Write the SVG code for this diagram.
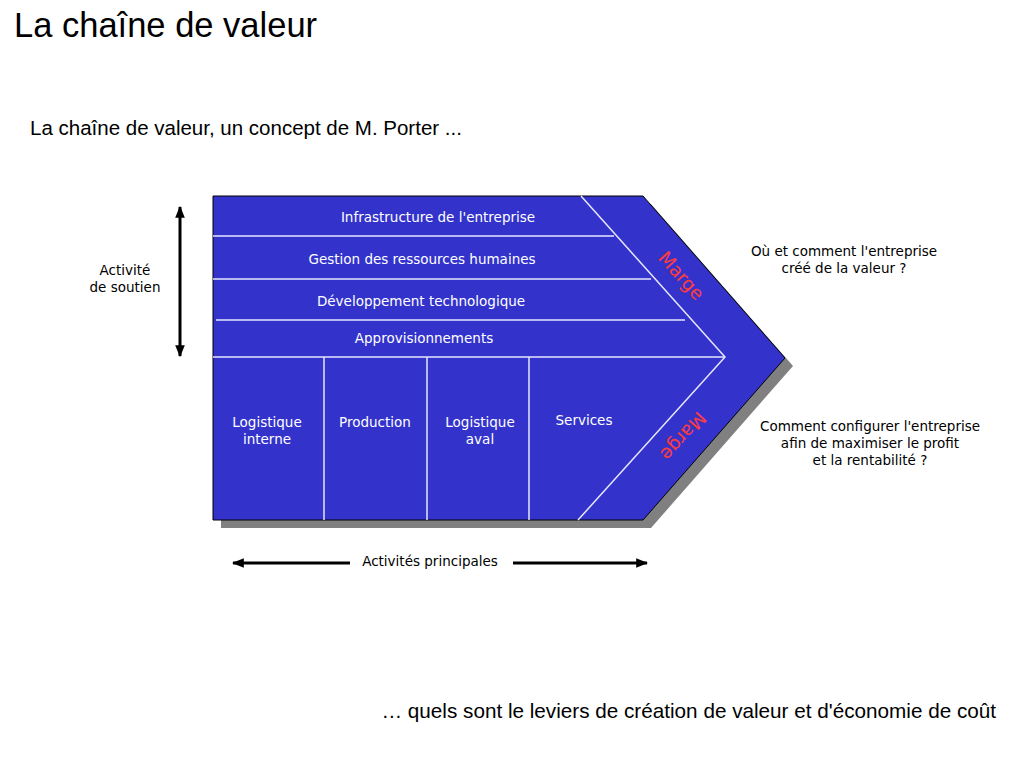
<svg xmlns="http://www.w3.org/2000/svg" width="1024" height="768" viewBox="0 0 1024 768">
<defs>
<style>
text{font-family:"Liberation Sans",Arial,sans-serif;}
.c{font-family:"DejaVu Sans","Liberation Sans",sans-serif;}
.t{font-size:13.5px;fill:#000;text-anchor:middle;}
.w{font-size:13.5px;fill:#fff;text-anchor:middle;}
.m{font-size:18.5px;fill:#ff3b3b;text-anchor:middle;}
.il{stroke:#e6e6ff;stroke-width:1.5;fill:none;}
.ar{stroke:#000;stroke-width:3;fill:none;}
</style>
<marker id="ah" viewBox="0 0 10 10" refX="9" refY="5" markerWidth="4" markerHeight="4" orient="auto-start-reverse" markerUnits="strokeWidth">
<path d="M0,1 L10,5 L0,9 Z" fill="#000"/>
</marker>
</defs>
<rect width="1024" height="768" fill="#fff"/>
<text x="14" y="37" font-size="34.5">La chaîne de valeur</text>
<text x="30" y="135" font-size="20.5">La chaîne de valeur, un concept de M. Porter ...</text>
<text x="996" y="718" font-size="20.7" text-anchor="end">… quels sont le leviers de création de valeur et d'économie de coût</text>

<g id="chain">
<polygon points="221,204 651,204 793,366 651,528 221,528" fill="#808080"/>
<polygon points="213,196 643,196 785,358 643,520 213,520" fill="#3333cc" stroke="#000" stroke-width="1"/>
<polyline class="il" points="581,196 725,357 578,520"/>
<line class="il" x1="213" y1="236" x2="614" y2="236"/>
<line class="il" x1="213" y1="279" x2="651" y2="279"/>
<line class="il" x1="216" y1="320" x2="685" y2="320"/>
<line class="il" x1="213" y1="357" x2="725" y2="357"/>
<line class="il" x1="324" y1="357" x2="324" y2="520"/>
<line class="il" x1="427" y1="357" x2="427" y2="520"/>
<line class="il" x1="529" y1="357" x2="529" y2="520"/>
</g>
<g id="infra"><text class="w c" x="438" y="222">Infrastructure de l'entreprise</text></g>
<g id="grh"><text class="w c" x="422" y="264">Gestion des ressources humaines</text></g>
<g id="dev"><text class="w c" x="421" y="306">Développement technologique</text></g>
<g id="appro"><text class="w c" x="424" y="343">Approvisionnements</text></g>
<g id="logint"><text class="w c" x="267" y="427">Logistique</text><text class="w c" x="267" y="444">interne</text></g>
<g id="prod"><text class="w c" x="375" y="427">Production</text></g>
<g id="logaval"><text class="w c" x="480" y="427">Logistique</text><text class="w c" x="480" y="444">aval</text></g>
<g id="serv"><text class="w c" x="584" y="425">Services</text></g>
<g id="marge1"><text class="m c" transform="translate(681,276) rotate(48)" y="6">Marge</text></g>
<g id="marge2"><text class="m c" transform="translate(683,436) rotate(132)" y="6">Marge</text></g>

<g id="connectors">
<line class="ar" x1="180" y1="207" x2="180" y2="356" marker-start="url(#ah)" marker-end="url(#ah)"/>
<line class="ar" x1="233" y1="563" x2="350" y2="563" marker-start="url(#ah)"/>
<line class="ar" x1="513" y1="563" x2="647" y2="563" marker-end="url(#ah)"/>
</g>
<g id="soutien"><text class="t c" x="125" y="275">Activité</text><text class="t c" x="125" y="292">de soutien</text></g>
<g id="principales"><text class="t c" x="430" y="566">Activités principales</text></g>
<g id="q1"><text class="t c" x="844" y="256">Où et comment l'entreprise</text><text class="t c" x="844" y="273">créé de la valeur ?</text></g>
<g id="q2"><text class="t c" x="870" y="431">Comment configurer l'entreprise</text><text class="t c" x="870" y="448">afin de maximiser le profit</text><text class="t c" x="870" y="465">et la rentabilité ?</text></g>
</svg>
